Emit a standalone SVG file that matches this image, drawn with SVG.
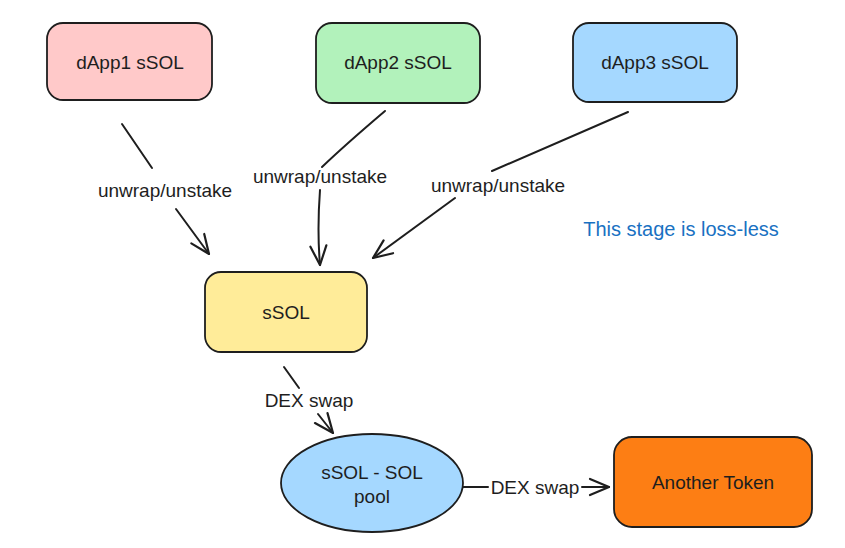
<svg xmlns="http://www.w3.org/2000/svg" width="845" height="548" viewBox="0 0 845 548">
<defs>
<marker id="arr" markerUnits="userSpaceOnUse" markerWidth="30" markerHeight="30" refX="0" refY="0" viewBox="-20 -15 30 30" orient="auto" overflow="visible">
<path d="M-19,-8 L0,0 L-19,8" fill="none" stroke="#1e1e1e" stroke-width="2.2" stroke-linecap="round" stroke-linejoin="round"/>
</marker>
<style>
.box{stroke:#1e1e1e;stroke-width:1.8}
.lbl{font-family:"Liberation Sans","DejaVu Sans",sans-serif;font-size:19px;fill:#1e1e1e;text-anchor:middle;dominant-baseline:central}
.edge{fill:none;stroke:#1e1e1e;stroke-width:2;stroke-linecap:round}
.note{font-family:"Liberation Sans","DejaVu Sans",sans-serif;font-size:20px;fill:#1971c2;text-anchor:middle;dominant-baseline:central}
</style>
</defs>
<rect width="845" height="548" fill="#ffffff"/>
<g id="dapp1">
<rect class="box" x="47" y="23" width="165" height="77" rx="16" fill="#ffc9c9"/>
<text class="lbl" x="130" y="62">dApp1 sSOL</text>
</g>
<g id="dapp2">
<rect class="box" x="316" y="23" width="164" height="80" rx="16" fill="#b2f2bb"/>
<text class="lbl" x="398" y="62">dApp2 sSOL</text>
</g>
<g id="dapp3">
<rect class="box" x="573" y="23" width="164" height="79" rx="16" fill="#a5d8ff"/>
<text class="lbl" x="655" y="62">dApp3 sSOL</text>
</g>
<g id="ssol">
<rect class="box" x="205" y="272" width="162" height="80" rx="16" fill="#ffec99"/>
<text class="lbl" x="286" y="312">sSOL</text>
</g>
<g id="pool">
<ellipse class="box" cx="372" cy="483" rx="91" ry="49" fill="#a5d8ff"/>
<text class="lbl" x="372" y="472">sSOL - SOL</text>
<text class="lbl" x="372" y="496">pool</text>
</g>
<g id="another">
<rect class="box" x="614" y="437" width="198" height="90" rx="18" fill="#fd7e14"/>
<text class="lbl" x="713" y="482">Another Token</text>
</g>
<g id="connectors">
<path class="edge" d="M122,124 L152,168"/>
<path class="edge" d="M176,209 L209,254" marker-end="url(#arr)"/>
<text class="lbl" x="165" y="190">unwrap/unstake</text>
<path class="edge" d="M385,111 Q345,145 322,167"/>
<path class="edge" d="M320,190 Q317,230 320,265" marker-end="url(#arr)"/>
<text class="lbl" x="320" y="176">unwrap/unstake</text>
<path class="edge" d="M628,112 L492,171"/>
<path class="edge" d="M455,198 L373,258" marker-end="url(#arr)"/>
<text class="lbl" x="498" y="185">unwrap/unstake</text>
<path class="edge" d="M284,367 L299,388"/>
<path class="edge" d="M318,414 L333,433" marker-end="url(#arr)"/>
<text class="lbl" x="309" y="400">DEX swap</text>
<path class="edge" d="M463,487 L488,487"/>
<path class="edge" d="M582,487 L609,487" marker-end="url(#arr)"/>
<text class="lbl" x="535" y="487">DEX swap</text>
</g>
<text class="note" x="681" y="229">This stage is loss-less</text>
</svg>
